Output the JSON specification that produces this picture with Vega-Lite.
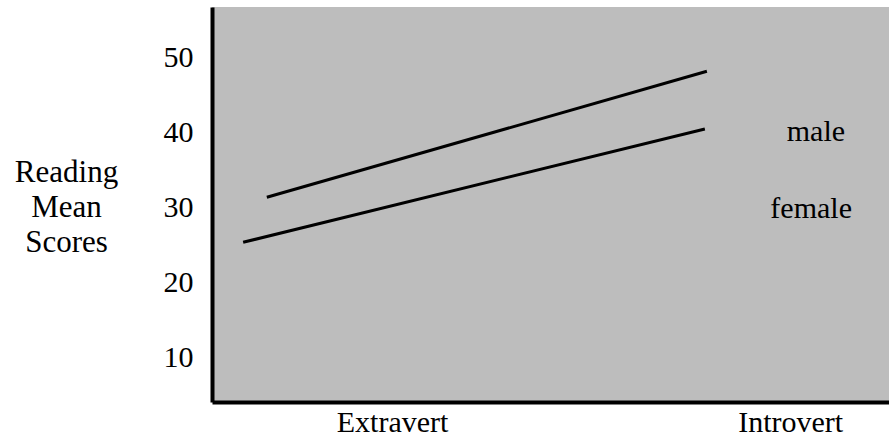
{
  "$schema": "https://vega.github.io/schema/vega-lite/v6.json",
  "width": 677,
  "height": 395,
  "autosize": {"type": "none"},
  "padding": {"left": 212, "top": 7, "right": 0, "bottom": 38},
  "background": "white",
  "config": {
    "view": {"fill": "#bdbdbd", "stroke": null},
    "font": "Liberation Serif"
  },
  "datasets": {
    "lines": [
      {"sex": "male", "x": 8.1, "y": 31.3},
      {"sex": "male", "x": 73.1, "y": 48.1},
      {"sex": "female", "x": 4.6, "y": 25.3},
      {"sex": "female", "x": 72.8, "y": 40.4}
    ],
    "labels": [
      {"label": "male", "x": 89.2, "y": 40},
      {"label": "female", "x": 88.5, "y": 29.7}
    ]
  },
  "layer": [
    {
      "data": {"name": "lines"},
      "mark": {"type": "line", "color": "black", "strokeWidth": 3},
      "encoding": {
        "x": {
          "field": "x", "type": "quantitative",
          "scale": {"domain": [0, 100], "nice": false, "zero": false},
          "axis": {
            "title": null, "grid": false, "ticks": false,
            "values": [26.6, 85.4],
            "labelExpr": "datum.value < 50 ? 'Extravert' : 'Introvert'",
            "labelFont": "Liberation Serif", "labelFontSize": 30, "labelColor": "black",
            "labelPadding": 5, "labelFlush": false,
            "domainColor": "black", "domainWidth": 4
          }
        },
        "y": {
          "field": "y", "type": "quantitative",
          "scale": {"domain": [4, 56.67], "nice": false, "zero": false},
          "axis": {
            "values": [10, 20, 30, 40, 50],
            "grid": false, "ticks": false,
            "labelFont": "Liberation Serif", "labelFontSize": 30, "labelColor": "black",
            "labelPadding": 19, "labelFlush": false,
            "domainColor": "black", "domainWidth": 4,
            "title": ["Reading", "Mean", "Scores"],
            "titleFont": "Liberation Serif", "titleFontSize": 31, "titleFontWeight": "normal",
            "titleColor": "black", "titleAngle": 0, "titleAlign": "center",
            "titleBaseline": "middle", "titleLineHeight": 35,
            "titleX": -146, "titleY": 165
          }
        },
        "detail": {"field": "sex"}
      }
    },
    {
      "data": {"name": "labels"},
      "mark": {"type": "text", "font": "Liberation Serif", "fontSize": 30, "color": "black"},
      "encoding": {
        "x": {"field": "x", "type": "quantitative"},
        "y": {"field": "y", "type": "quantitative"},
        "text": {"field": "label"}
      }
    }
  ]
}
